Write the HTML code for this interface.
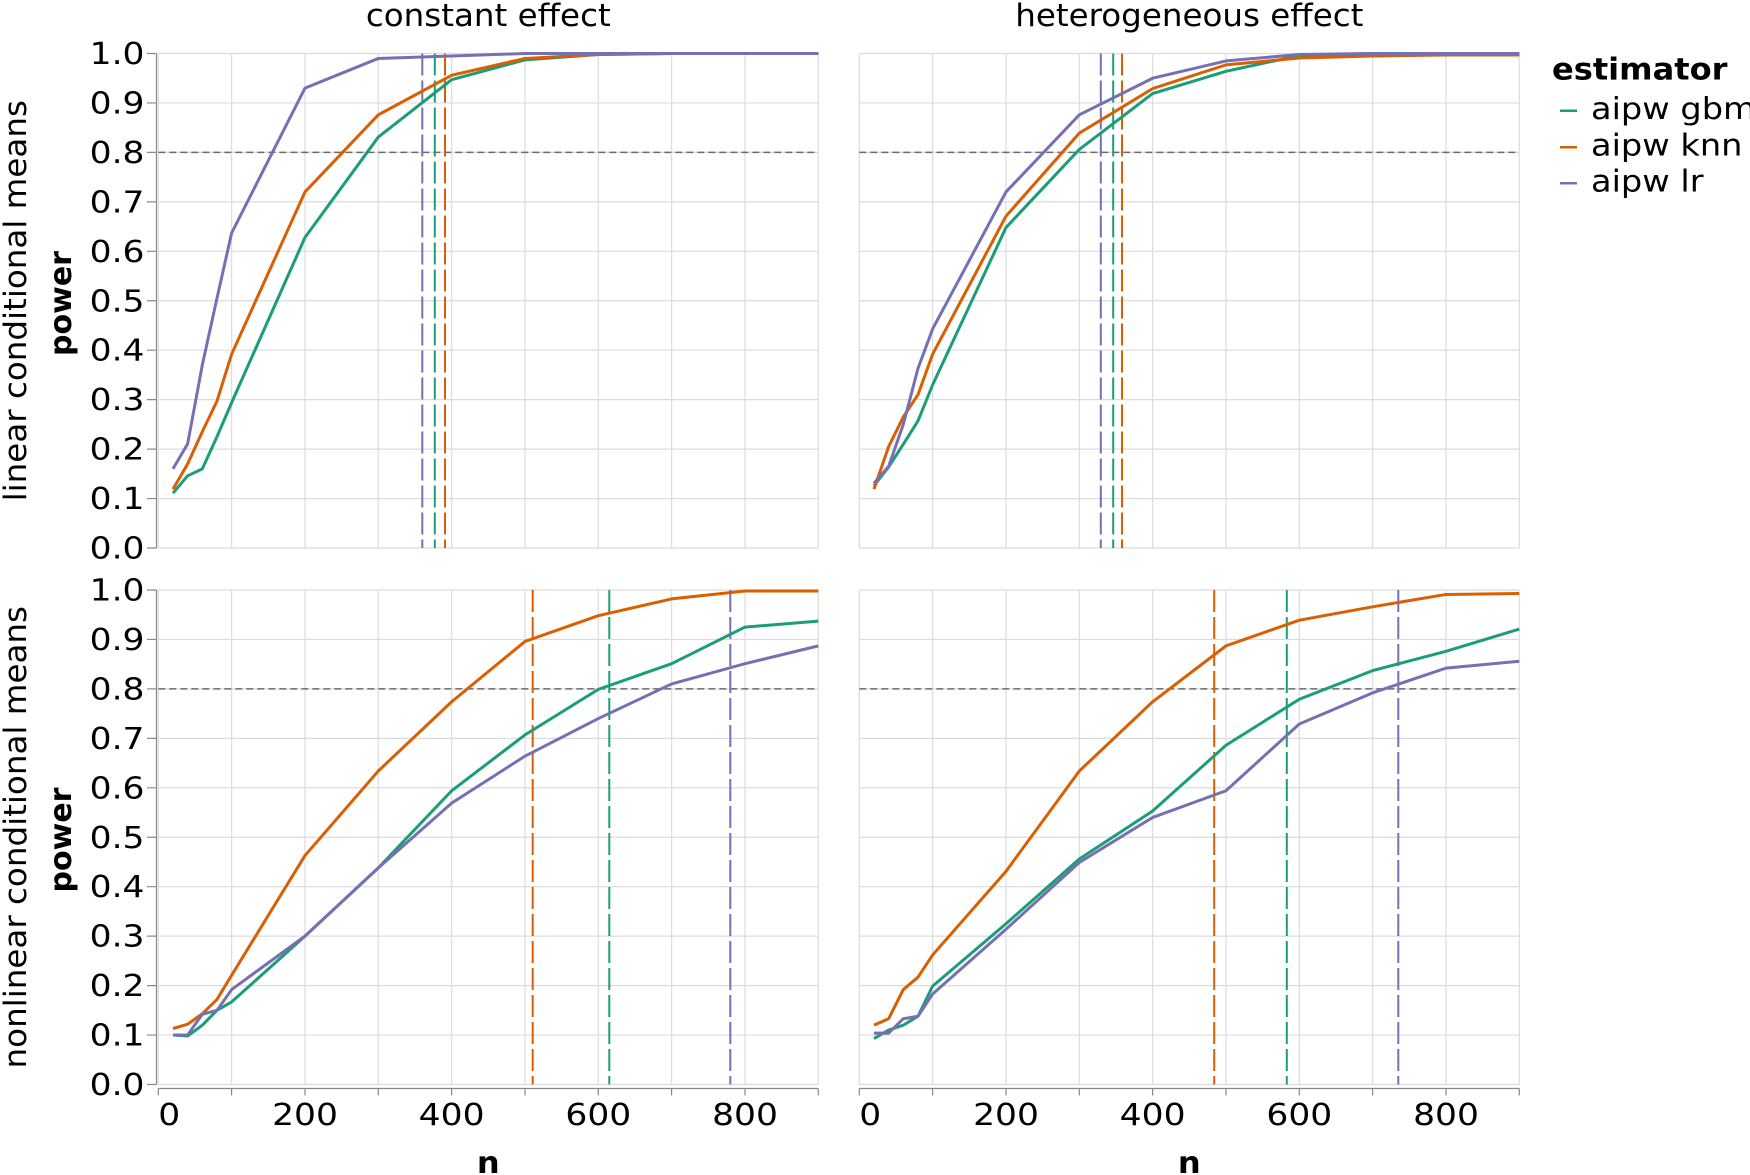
<!DOCTYPE html>
<html>
<head>
<meta charset="utf-8">
<style>
html,body{margin:0;padding:0;background:#fff;}
body{width:1750px;height:1175px;overflow:hidden;}
svg{display:block;}
text{font-family:"DejaVu Sans","Liberation Sans",sans-serif;fill:#000;}
.tl{font-size:30px;}
.grid{fill:none;stroke:#dcdcdc;stroke-width:1.2;}
.ser{fill:none;stroke-width:3;stroke-linejoin:round;stroke-linecap:butt;}
</style>
</head>
<body>
<svg width="1750" height="1175" viewBox="0 0 1750 1175" xmlns="http://www.w3.org/2000/svg">
<rect x="0" y="0" width="1750" height="1175" fill="#fff"/>

<!-- Grids -->
<g transform="translate(158.3,548) scale(0.733333,-494.5)">
<path class="grid" vector-effect="non-scaling-stroke" d="M0 0V1M100 0V1M200 0V1M300 0V1M400 0V1M500 0V1M600 0V1M700 0V1M800 0V1M900 0V1M0 0H900M0 .1H900M0 .2H900M0 .3H900M0 .4H900M0 .5H900M0 .6H900M0 .7H900M0 .8H900M0 .9H900M0 1H900"/>
</g>
<g transform="translate(859.3,548) scale(0.733333,-494.5)">
<path class="grid" vector-effect="non-scaling-stroke" d="M0 0V1M100 0V1M200 0V1M300 0V1M400 0V1M500 0V1M600 0V1M700 0V1M800 0V1M900 0V1M0 0H900M0 .1H900M0 .2H900M0 .3H900M0 .4H900M0 .5H900M0 .6H900M0 .7H900M0 .8H900M0 .9H900M0 1H900"/>
</g>
<g transform="translate(158.3,1084.5) scale(0.733333,-494.5)">
<path class="grid" vector-effect="non-scaling-stroke" d="M0 0V1M100 0V1M200 0V1M300 0V1M400 0V1M500 0V1M600 0V1M700 0V1M800 0V1M900 0V1M0 0H900M0 .1H900M0 .2H900M0 .3H900M0 .4H900M0 .5H900M0 .6H900M0 .7H900M0 .8H900M0 .9H900M0 1H900"/>
</g>
<g transform="translate(859.3,1084.5) scale(0.733333,-494.5)">
<path class="grid" vector-effect="non-scaling-stroke" d="M0 0V1M100 0V1M200 0V1M300 0V1M400 0V1M500 0V1M600 0V1M700 0V1M800 0V1M900 0V1M0 0H900M0 .1H900M0 .2H900M0 .3H900M0 .4H900M0 .5H900M0 .6H900M0 .7H900M0 .8H900M0 .9H900M0 1H900"/>
</g>

<!-- 0.8 threshold lines -->
<path d="M158.3 152.4H818.3M859.3 152.4H1519.3M158.3 688.9H818.3M859.3 688.9H1519.3" stroke="#6a6a6a" stroke-width="1.5" stroke-dasharray="7,4" fill="none"/>

<!-- vertical dashed rules -->
<g stroke-width="2" stroke-dasharray="22,5" fill="none">
<path d="M422.3 53.5V548" stroke="#7570b3"/>
<path d="M434.8 53.5V548" stroke="#1b9e77"/>
<path d="M445.0 53.5V548" stroke="#d95f02"/>
<path d="M1100.8 53.5V548" stroke="#7570b3"/>
<path d="M1113.2 53.5V548" stroke="#1b9e77"/>
<path d="M1122.0 53.5V548" stroke="#d95f02"/>
<path d="M532.7 590V1084.5" stroke="#d95f02"/>
<path d="M609.3 590V1084.5" stroke="#1b9e77"/>
<path d="M730.3 590V1084.5" stroke="#7570b3"/>
<path d="M1214.2 590V1084.5" stroke="#d95f02"/>
<path d="M1286.8 590V1084.5" stroke="#1b9e77"/>
<path d="M1398.3 590V1084.5" stroke="#7570b3"/>
</g>

<!-- Series: top-left -->
<g transform="translate(158.3,548) scale(0.733333,-494.5)">
<polyline class="ser" vector-effect="non-scaling-stroke" stroke="#1b9e77" points="20,.111 40,.146 60,.160 80,.225 100,.294 200,.628 300,.831 400,.947 500,.987 600,.998 700,1 800,1 900,1"/>
<polyline class="ser" vector-effect="non-scaling-stroke" stroke="#d95f02" points="20,.119 40,.17 60,.235 80,.297 100,.392 200,.72 300,.876 400,.956 500,.99 600,.998 700,1 800,1 900,1"/>
<polyline class="ser" vector-effect="non-scaling-stroke" stroke="#7570b3" points="20,.160 40,.2105 60,.37 80,.505 100,.637 200,.930 300,.990 400,.995 500,1 600,1 700,1 800,1 900,1"/>
</g>
<!-- Series: top-right -->
<g transform="translate(859.3,548) scale(0.733333,-494.5)">
<polyline class="ser" vector-effect="non-scaling-stroke" stroke="#1b9e77" points="20,.126 40,.164 60,.21 80,.257 100,.33 200,.648 300,.806 400,.919 500,.964 600,.996 700,1 800,1 900,1"/>
<polyline class="ser" vector-effect="non-scaling-stroke" stroke="#d95f02" points="20,.119 40,.205 60,.265 80,.31 100,.392 200,.671 300,.839 400,.929 500,.977 600,.991 700,.995 800,.997 900,.997"/>
<polyline class="ser" vector-effect="non-scaling-stroke" stroke="#7570b3" points="20,.131 40,.165 60,.25 80,.363 100,.443 200,.72 300,.876 400,.95 500,.985 600,.998 700,1 800,1 900,1"/>
</g>
<!-- Series: bottom-left -->
<g transform="translate(158.3,1084.5) scale(0.733333,-494.5)">
<polyline class="ser" vector-effect="non-scaling-stroke" stroke="#1b9e77" points="20,.10 40,.098 60,.12 80,.15 100,.167 200,.30 300,.438 400,.594 500,.707 600,.799 700,.851 800,.925 900,.937"/>
<polyline class="ser" vector-effect="non-scaling-stroke" stroke="#d95f02" points="20,.113 40,.122 60,.143 80,.172 100,.221 200,.463 300,.634 400,.774 500,.896 600,.948 700,.982 800,.998 900,.998"/>
<polyline class="ser" vector-effect="non-scaling-stroke" stroke="#7570b3" points="20,.10 40,.10 60,.142 80,.15 100,.192 200,.30 300,.438 400,.569 500,.664 600,.740 700,.81 800,.851 900,.887"/>
</g>
<!-- Series: bottom-right -->
<g transform="translate(859.3,1084.5) scale(0.733333,-494.5)">
<polyline class="ser" vector-effect="non-scaling-stroke" stroke="#1b9e77" points="20,.093 40,.11 60,.12 80,.138 100,.199 200,.325 300,.456 400,.553 500,.686 600,.779 700,.837 800,.876 900,.921"/>
<polyline class="ser" vector-effect="non-scaling-stroke" stroke="#d95f02" points="20,.12 40,.133 60,.192 80,.217 100,.262 200,.431 300,.634 400,.774 500,.887 600,.939 700,.966 800,.991 900,.993"/>
<polyline class="ser" vector-effect="non-scaling-stroke" stroke="#7570b3" points="20,.104 40,.104 60,.133 80,.138 100,.183 200,.314 300,.449 400,.54 500,.594 600,.729 700,.792 800,.842 900,.856"/>
</g>

<!-- Y axes -->
<path d="M156.5 53.5V548M156.5 590V1084.5" stroke="#888" stroke-width="1.2" fill="none"/>
<path d="M147 53.5H156.5M147 102.95H156.5M147 152.4H156.5M147 201.85H156.5M147 251.3H156.5M147 300.75H156.5M147 350.2H156.5M147 399.65H156.5M147 449.1H156.5M147 498.55H156.5M147 548H156.5
M147 590H156.5M147 639.45H156.5M147 688.9H156.5M147 738.35H156.5M147 787.8H156.5M147 837.25H156.5M147 886.7H156.5M147 936.15H156.5M147 985.6H156.5M147 1035.05H156.5M147 1084.5H156.5" stroke="#888" stroke-width="1.2" fill="none"/>

<g class="tl" text-anchor="end">
<text transform="translate(144.5,64) scale(1.15,1)">1.0</text>
<text transform="translate(144.5,113.45) scale(1.15,1)">0.9</text>
<text transform="translate(144.5,162.9) scale(1.15,1)">0.8</text>
<text transform="translate(144.5,212.35) scale(1.15,1)">0.7</text>
<text transform="translate(144.5,261.8) scale(1.15,1)">0.6</text>
<text transform="translate(144.5,311.25) scale(1.15,1)">0.5</text>
<text transform="translate(144.5,360.7) scale(1.15,1)">0.4</text>
<text transform="translate(144.5,410.15) scale(1.15,1)">0.3</text>
<text transform="translate(144.5,459.6) scale(1.15,1)">0.2</text>
<text transform="translate(144.5,509.05) scale(1.15,1)">0.1</text>
<text transform="translate(144.5,558.5) scale(1.15,1)">0.0</text>
<text transform="translate(144.5,600.5) scale(1.15,1)">1.0</text>
<text transform="translate(144.5,649.95) scale(1.15,1)">0.9</text>
<text transform="translate(144.5,699.4) scale(1.15,1)">0.8</text>
<text transform="translate(144.5,748.85) scale(1.15,1)">0.7</text>
<text transform="translate(144.5,798.3) scale(1.15,1)">0.6</text>
<text transform="translate(144.5,847.75) scale(1.15,1)">0.5</text>
<text transform="translate(144.5,897.2) scale(1.15,1)">0.4</text>
<text transform="translate(144.5,946.65) scale(1.15,1)">0.3</text>
<text transform="translate(144.5,996.1) scale(1.15,1)">0.2</text>
<text transform="translate(144.5,1045.55) scale(1.15,1)">0.1</text>
<text transform="translate(144.5,1095) scale(1.15,1)">0.0</text>
</g>

<!-- X axes -->
<path d="M158.3 1088.5H818.3M859.3 1088.5H1519.3" stroke="#888" stroke-width="1.2" fill="none"/>
<path d="M158.3 1088.5V1095.5M231.6 1088.5V1095.5M305 1088.5V1095.5M378.3 1088.5V1095.5M451.6 1088.5V1095.5M525 1088.5V1095.5M598.3 1088.5V1095.5M671.6 1088.5V1095.5M745 1088.5V1095.5M818.3 1088.5V1095.5
M859.3 1088.5V1095.5M932.6 1088.5V1095.5M1006 1088.5V1095.5M1079.3 1088.5V1095.5M1152.6 1088.5V1095.5M1226 1088.5V1095.5M1299.3 1088.5V1095.5M1372.6 1088.5V1095.5M1446 1088.5V1095.5M1519.3 1088.5V1095.5" stroke="#888" stroke-width="1.2" fill="none"/>

<g class="tl" text-anchor="middle">
<text text-anchor="start" transform="translate(158.3,1125) scale(1.15,1)">0</text>
<text transform="translate(305,1125) scale(1.15,1)">200</text>
<text transform="translate(451.6,1125) scale(1.15,1)">400</text>
<text transform="translate(598.3,1125) scale(1.15,1)">600</text>
<text transform="translate(745,1125) scale(1.15,1)">800</text>
<text text-anchor="start" transform="translate(859.3,1125) scale(1.15,1)">0</text>
<text transform="translate(1006,1125) scale(1.15,1)">200</text>
<text transform="translate(1152.6,1125) scale(1.15,1)">400</text>
<text transform="translate(1299.3,1125) scale(1.15,1)">600</text>
<text transform="translate(1446,1125) scale(1.15,1)">800</text>
</g>

<!-- Axis titles -->
<text transform="translate(488.3,1173) scale(1.07,1)" text-anchor="middle" font-size="30" font-weight="bold">n</text>
<text transform="translate(1189.3,1173) scale(1.07,1)" text-anchor="middle" font-size="30" font-weight="bold">n</text>
<text transform="translate(71,303.5) rotate(-90)" text-anchor="middle" font-size="30" font-weight="bold">power</text>
<text transform="translate(71,840) rotate(-90)" text-anchor="middle" font-size="30" font-weight="bold">power</text>

<!-- Column headers -->
<text transform="translate(488.3,26) scale(1.05,1)" text-anchor="middle" font-size="31">constant effect</text>
<text transform="translate(1189.3,26) scale(1.05,1)" text-anchor="middle" font-size="31">heterogeneous effect</text>

<!-- Row headers -->
<text transform="translate(26,300.75) rotate(-90) scale(1.05,1)" text-anchor="middle" font-size="31">linear conditional means</text>
<text transform="translate(26,837.25) rotate(-90) scale(1.05,1)" text-anchor="middle" font-size="31">nonlinear conditional means</text>

<!-- Legend -->
<text transform="translate(1552,79.3) scale(1.07,1)" font-size="30" font-weight="bold">estimator</text>
<path d="M1560 110.7H1577" stroke="#1b9e77" stroke-width="2.5"/>
<path d="M1560 147.3H1577" stroke="#d95f02" stroke-width="2.5"/>
<path d="M1560 183.3H1577" stroke="#7570b3" stroke-width="2.5"/>
<text transform="translate(1591,119) scale(1.12,1)" font-size="30">aipw gbm</text>
<text transform="translate(1591,155.5) scale(1.12,1)" font-size="30">aipw knn</text>
<text transform="translate(1591,191.5) scale(1.12,1)" font-size="30">aipw lr</text>
</svg>
</body>
</html>
